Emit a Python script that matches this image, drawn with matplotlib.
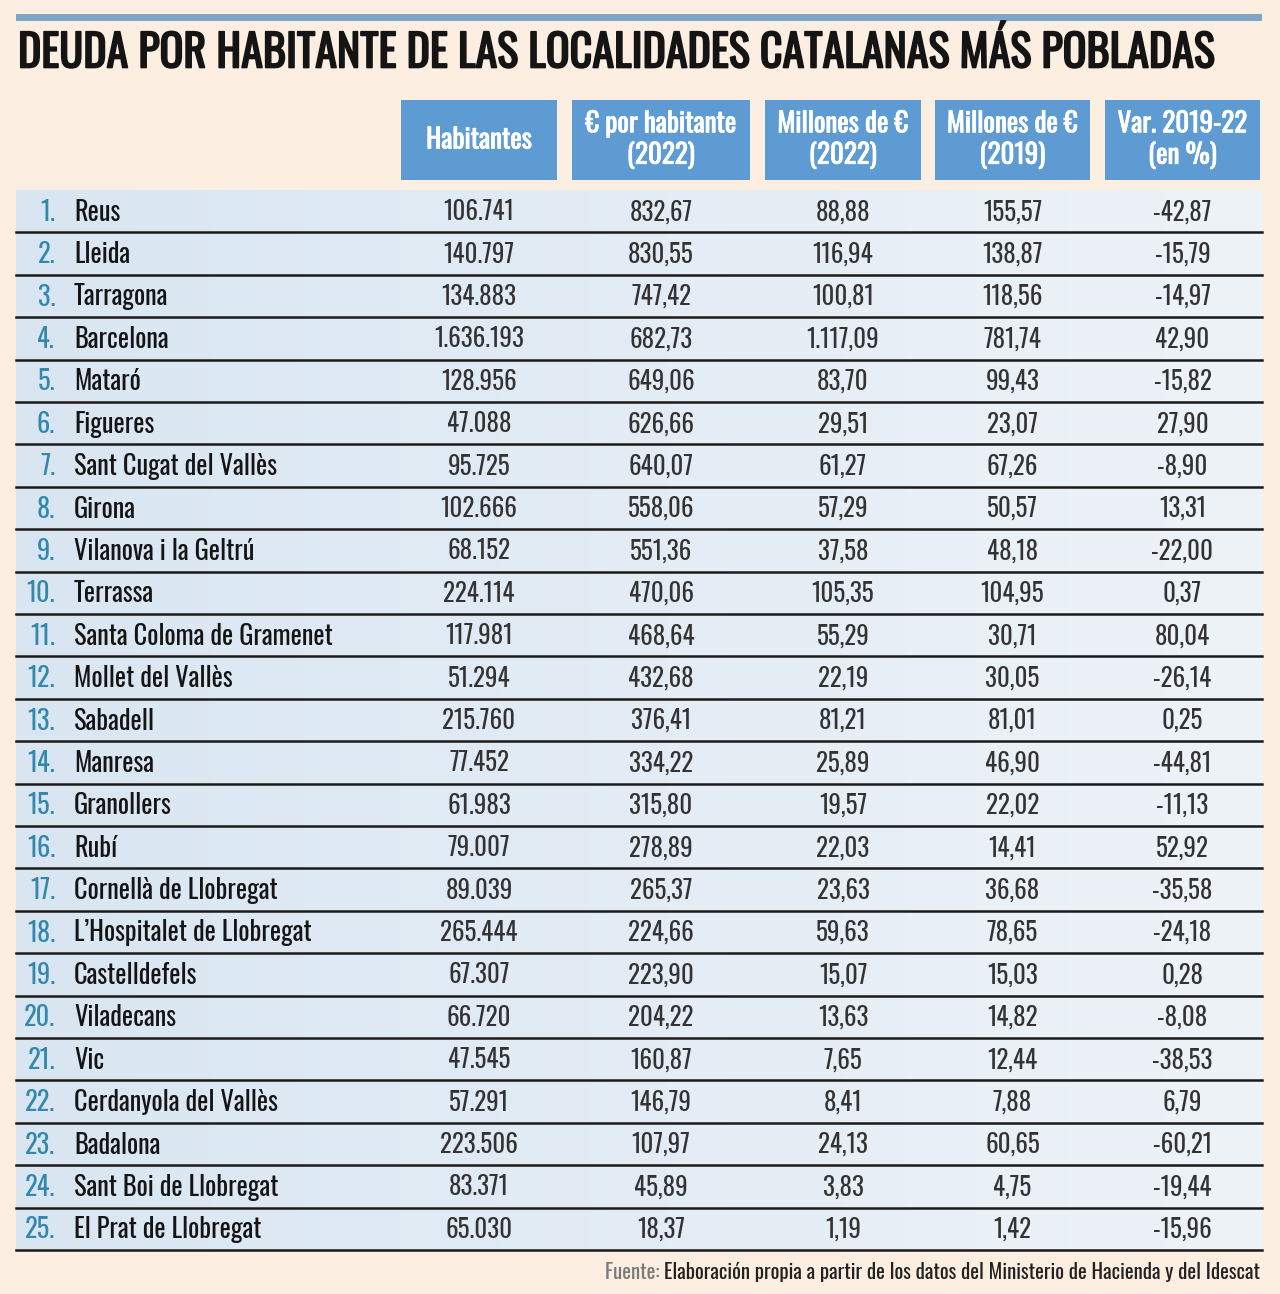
import numpy as np
import matplotlib.pyplot as plt
import matplotlib.patheffects as pe
from matplotlib.patches import Rectangle
from matplotlib.colors import LinearSegmentedColormap

# data
towns = ['Reus', 'Lleida', 'Tarragona', 'Barcelona', 'Mataró', 'Figueres',
         'Sant Cugat del Vallès', 'Girona', 'Vilanova i la Geltrú', 'Terrassa',
         'Santa Coloma de Gramenet', 'Mollet del Vallès', 'Sabadell', 'Manresa',
         'Granollers', 'Rubí', 'Cornellà de Llobregat', 'L’Hospitalet de Llobregat',
         'Castelldefels', 'Viladecans', 'Vic', 'Cerdanyola del Vallès', 'Badalona',
         'Sant Boi de Llobregat', 'El Prat de Llobregat']
habitantes = [106741, 140797, 134883, 1636193, 128956, 47088, 95725, 102666,
              68152, 224114, 117981, 51294, 215760, 77452, 61983, 79007, 89039,
              265444, 67307, 66720, 47545, 57291, 223506, 83371, 65030]
eur_hab_2022 = [832.67, 830.55, 747.42, 682.73, 649.06, 626.66, 640.07, 558.06,
                551.36, 470.06, 468.64, 432.68, 376.41, 334.22, 315.80, 278.89,
                265.37, 224.66, 223.90, 204.22, 160.87, 146.79, 107.97, 45.89, 18.37]
mill_2022 = [88.88, 116.94, 100.81, 1117.09, 83.70, 29.51, 61.27, 57.29, 37.58,
             105.35, 55.29, 22.19, 81.21, 25.89, 19.57, 22.03, 23.63, 59.63,
             15.07, 13.63, 7.65, 8.41, 24.13, 3.83, 1.19]
mill_2019 = [155.57, 138.87, 118.56, 781.74, 99.43, 23.07, 67.26, 50.57, 48.18,
             104.95, 30.71, 30.05, 81.01, 46.90, 22.02, 14.41, 36.68, 78.65,
             15.03, 14.82, 12.44, 7.88, 60.65, 4.75, 1.42]
var_pct = [-42.87, -15.79, -14.97, 42.90, -15.82, 27.90, -8.90, 13.31, -22.00,
           0.37, 80.04, -26.14, 0.25, -44.81, -11.13, 52.92, -35.58, -24.18,
           0.28, -8.08, -38.53, 6.79, -60.21, -19.44, -15.96]
headers = ['Habitantes', '€ por habitante\n(2022)', 'Millones de €\n(2022)',
           'Millones de €\n(2019)', 'Var. 2019-22\n(en %)']

title = 'DEUDA POR HABITANTE DE LAS LOCALIDADES CATALANAS MÁS POBLADAS'
source = 'Elaboración propia a partir de los datos del Ministerio de Hacienda y del Idescat'


def es_int(v):
    return f'{v:,}'.replace(',', '.')


def es_dec(v):
    s = f'{v:,.2f}'
    return s.replace(',', 'X').replace('.', ',').replace('X', '.')


plt.rcParams['font.family'] = ['Oswald', 'Roboto Condensed', 'DejaVu Sans']

W, H = 1280, 1294
fig = plt.figure(figsize=(W / 100, H / 100), dpi=100)
bg = '#fcefe2'
fig.patch.set_facecolor(bg)
ax = fig.add_axes([0, 0, 1, 1])
ax.set_xlim(0, W)
ax.set_ylim(H, 0)
ax.axis('off')

left, right = 16, 1262
ax.add_patch(Rectangle((left, 14), right - left, 7, color='#7ea6c9', lw=0))
ax.text(18, 52, title, fontsize=31.8, color='#141414', va='center', ha='left',
        path_effects=[pe.withStroke(linewidth=1.2, foreground='#141414')])

# column boxes (x0, x1)
cols = [(401, 557), (572, 750), (765, 921), (935, 1090), (1105, 1260)]
for (x0, x1), h in zip(cols, headers):
    ax.add_patch(Rectangle((x0, 100), x1 - x0, 80, color='#5d9bd2', lw=0))
    ax.text((x0 + x1) / 2, 140, h, color='white', fontsize=19.5,
            ha='center', va='center', linespacing=1.2,
            path_effects=[pe.withStroke(linewidth=0.6, foreground='white')])

top = 190
rh = (1250 - top) / len(towns)
grad = np.linspace(0, 1, 256).reshape(1, -1)
cmap = LinearSegmentedColormap.from_list('rowbg', ['#d9e6f2', '#eef3f8'])

for i, name in enumerate(towns):
    y0 = top + i * rh
    ax.imshow(grad, cmap=cmap, aspect='auto', extent=(left, right, y0 + rh - 1, y0 + 1),
              zorder=0)
    ax.plot([left, right], [y0 + rh, y0 + rh], color='#1a1a1a', lw=1.8, zorder=2)
    yc = y0 + rh / 2 + 1
    ax.text(55, yc, f'{i + 1}.', color='#3388ad', fontsize=19,
            ha='right', va='center')
    ax.text(74, yc, name, color='#151515', fontsize=19, ha='left', va='center')
    vals = [es_int(habitantes[i]), es_dec(eur_hab_2022[i]), es_dec(mill_2022[i]),
            es_dec(mill_2019[i]), es_dec(var_pct[i])]
    for (x0, x1), v in zip(cols, vals):
        ax.text((x0 + x1) / 2, yc, v, color='#333333', fontsize=18,
                ha='center', va='center')

src = ax.text(1260, 1272, source, color='#222222', fontsize=15, ha='right', va='center')
ax.annotate('Fuente: ', xy=(0, 0.5), xycoords=src, color='#7a7a7a', fontsize=15,
            ha='right', va='center')

fig.savefig('out.png', dpi=100, facecolor=bg)
